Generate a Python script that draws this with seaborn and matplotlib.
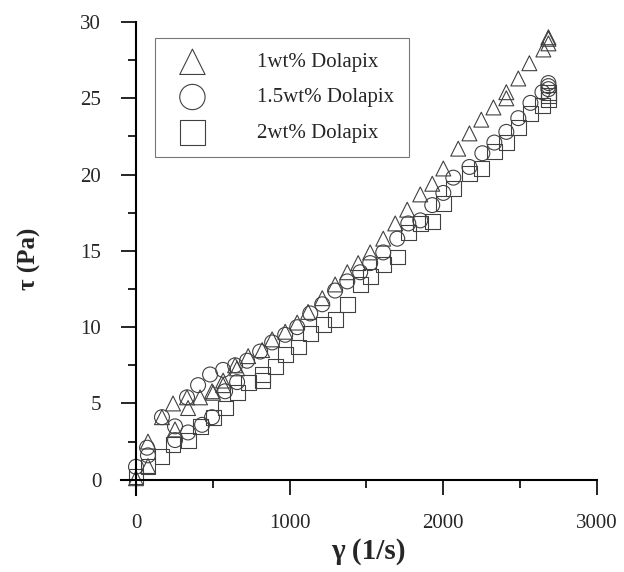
import matplotlib
matplotlib.use("Agg")
import matplotlib.pyplot as plt
import seaborn as sns
import pandas as pd
from matplotlib.ticker import MultipleLocator

# ---- data ----
x_1wt = [0, 78, 78, 169, 241, 254, 339, 332, 417, 495, 502, 567, 567, 645, 658, 730,
         821, 886, 971, 1049, 1120, 1212, 1296, 1375, 1446, 1524, 1609, 1687, 1765,
         1850, 1928, 2000, 2097, 2170, 2247, 2326, 2410, 2410, 2488, 2560, 2651,
         2684, 2684, 2684]
y_1wt = [0.1, 2.5, 0.9, 4.1, 5.0, 3.3, 4.7, 5.4, 5.4, 5.8, 5.7, 6.5, 6.2, 7.5, 7.3, 8.1,
         8.5, 9.2, 9.7, 10.3, 11.0, 11.9, 12.8, 13.6, 14.2, 14.9, 15.8, 16.8, 17.7,
         18.7, 19.4, 20.4, 21.7, 22.7, 23.6, 24.4, 25.0, 25.4, 26.3, 27.3, 28.2,
         28.6, 28.9, 29.0]

x_15wt = [0, 72, 78, 169, 254, 254, 332, 339, 404, 430, 482, 495, 567, 580, 645, 658,
          723, 808, 886, 971, 1049, 1134, 1212, 1296, 1375, 1459, 1524, 1609, 1700,
          1772, 1850, 1928, 2000, 2065, 2170, 2254, 2332, 2410, 2488, 2567, 2645,
          2684, 2684, 2684]
y_15wt = [0.85, 2.1, 1.6, 4.1, 3.5, 2.6, 5.4, 3.1, 6.2, 3.6, 6.9, 4.1, 7.2, 5.8, 7.5, 6.4,
          7.8, 8.4, 9.0, 9.5, 10.0, 10.9, 11.5, 12.4, 13.0, 13.6, 14.2, 14.9, 15.8,
          16.8, 17.0, 18.0, 18.8, 19.8, 20.5, 21.4, 22.1, 22.8, 23.7, 24.7, 25.4,
          25.6, 25.8, 26.0]

x_2wt = [0, 78, 169, 241, 339, 417, 502, 580, 658, 730, 821, 821, 906, 971, 1055, 1134,
         1218, 1296, 1375, 1459, 1524, 1609, 1700, 1772, 1850, 1928, 2000, 2065, 2170,
         2247, 2332, 2410, 2488, 2567, 2645, 2684, 2684, 2684]
y_2wt = [0.2, 0.85, 1.5, 2.3, 2.6, 3.5, 4.1, 4.7, 5.7, 6.4, 6.5, 6.9, 7.4, 8.2, 8.7, 9.6,
         10.2, 10.5, 11.5, 12.8, 13.3, 14.1, 14.6, 16.2, 16.8, 16.9, 18.1, 19.1, 20.1,
         20.4, 21.5, 22.1, 23.1, 24.0, 24.5, 24.9, 25.2, 25.4]

labels = ["1wt% Dolapix", "1.5wt% Dolapix", "2wt% Dolapix"]
markers = ["^", "o", "s"]

x_ticks = [0, 1000, 2000, 3000]
y_ticks = [0, 5, 10, 15, 20, 25, 30]

sns.set_theme(style="white")
plt.rcParams["font.family"] = ["Liberation Serif", "DejaVu Serif"]

fig = plt.figure(figsize=(6.24, 5.72), dpi=100)
ax = fig.add_axes([0.1933, 0.1346, 0.7634, 0.8269])

series = [(x_1wt, y_1wt), (x_15wt, y_15wt), (x_2wt, y_2wt)]
for (xs, ys), lab, mk in zip(series, labels, markers):
    df = pd.DataFrame({"x": xs, "y": ys})
    sns.scatterplot(data=df, x="x", y="y", marker=mk, s=115, color="none",
                    edgecolor="#404040", linewidth=0.8, label=lab, ax=ax)

ax.set_xlim(-100, 3000)
ax.set_ylim(-1, 30)
ax.spines["left"].set_position(("data", 0))
ax.spines["bottom"].set_position(("data", 0))
ax.spines["top"].set_visible(False)
ax.spines["right"].set_visible(False)
for s in ("left", "bottom"):
    ax.spines[s].set_linewidth(1.5)
    ax.spines[s].set_color("black")

ax.set_xticks(x_ticks)
ax.set_yticks(y_ticks)
ax.xaxis.set_minor_locator(MultipleLocator(500))
ax.yaxis.set_minor_locator(MultipleLocator(2.5))
ax.tick_params(which="major", direction="out", length=11, width=1.2, color="black",
               labelsize=15, pad=14, bottom=True, left=True)
ax.tick_params(which="minor", direction="out", length=6, width=1.2, color="black",
               bottom=True, left=True)

ax.set_xlabel("γ (1/s)", fontsize=21, fontweight="bold")
ax.set_ylabel("τ (Pa)", fontsize=18, fontweight="bold")
ax.xaxis.set_label_coords(0.52, -0.09)
ax.yaxis.set_label_coords(-0.168, 0.5)

leg = ax.legend(loc="upper left", bbox_to_anchor=(0.072, 0.966), fontsize=15,
                markerscale=1.7, frameon=True, fancybox=False, edgecolor="#555555",
                handlelength=2.2, handletextpad=2.0, borderpad=0.7, labelspacing=0.75,
                borderaxespad=0)
leg.get_frame().set_linewidth(0.8)

fig.savefig("out.png", dpi=100)
